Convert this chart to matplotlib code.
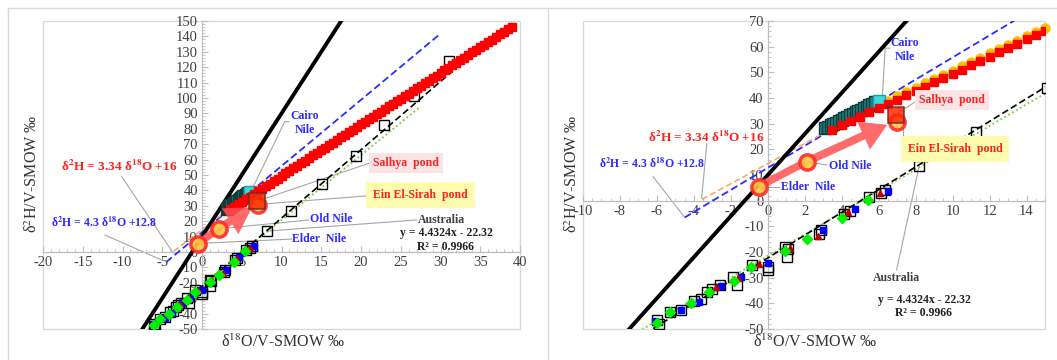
import matplotlib
matplotlib.use('Agg')
import matplotlib.pyplot as plt
from matplotlib.lines import Line2D
from matplotlib.patches import Rectangle

plt.rcParams['font.family'] = ['Liberation Serif', 'DejaVu Serif']
plt.rcParams['mathtext.fontset'] = 'stix'
plt.rcParams['axes.unicode_minus'] = False

# ---------------- data ----------------
# Global meteoric water line (black)
gmwl_x = [-8.0, 18.0]
gmwl_y = [-54.0, 154.0]
# Nile line δ2H = 4.3 δ18O + 12.8 (blue dashed)
nile_line_x = [-4.5, 30.0]
nile_line_y = [-6.55, 141.8]
# orange dashed line
orange_x = [-3.56, 3.2]
orange_y = [0.5, 27.0]
# Australia trend (black dashed) and green dotted line
trend_x = [-6.2, 31.4]
trend_y = [-49.8, 116.9]
green_line_x = [-6.8, 27.5]
green_line_y = [-50.2, 94.5]

# evaporation line points (red squares)
evap_x = [3.5, 4.0, 4.5, 5.0, 5.5, 6.0, 6.5, 7.0, 7.5, 8.0, 8.5, 9.0, 9.5, 10.0, 10.5,
          11.0, 11.5, 12.0, 12.5, 13.0, 13.5, 14.0, 14.5, 15.0, 15.5, 16.0, 16.5, 17.0,
          17.5, 18.0, 18.5, 19.0, 19.5, 20.0, 20.5, 21.0, 21.5, 22.0, 22.5, 23.0, 23.5,
          24.0, 24.5, 25.0, 25.5, 26.0, 26.5, 27.0, 27.5, 28.0, 28.5, 29.0, 29.5, 30.0,
          30.5, 31.0, 31.5, 32.0, 32.5, 33.0, 33.5, 34.0, 34.5, 35.0, 35.5, 36.0, 36.5,
          37.0, 37.5, 38.0, 38.5, 39.0]
evap_y = [27.7, 29.4, 31.0, 32.7, 34.4, 36.0, 37.7, 39.4, 41.1, 42.7, 44.4, 46.1, 47.7,
          49.4, 51.1, 52.7, 54.4, 56.1, 57.8, 59.4, 61.1, 62.8, 64.4, 66.1, 67.8, 69.4,
          71.1, 72.8, 74.5, 76.1, 77.8, 79.5, 81.1, 82.8, 84.5, 86.1, 87.8, 89.5, 91.2,
          92.8, 94.5, 96.2, 97.8, 99.5, 101.2, 102.8, 104.5, 106.2, 107.9, 109.5, 111.2,
          112.9, 114.5, 116.2, 117.9, 119.5, 121.2, 122.9, 124.6, 126.2, 127.9, 129.6,
          131.2, 132.9, 134.6, 136.2, 137.9, 139.6, 141.3, 142.9, 144.6, 146.3]
# yellow circles behind (visible in the zoomed panel)
gold_x = [3.5, 4.0, 4.5, 5.0, 5.5, 6.0, 6.5, 7.0, 7.5, 8.0, 8.5, 9.0, 9.5, 10.0, 10.5,
          11.0, 11.5, 12.0, 12.5, 13.0, 13.5, 14.0, 14.5, 15.0]
gold_y = [29.0, 30.7, 32.3, 34.0, 35.7, 37.3, 39.0, 40.7, 42.4, 44.0, 45.7, 47.4, 49.0,
          50.7, 52.4, 54.0, 55.7, 57.4, 59.1, 60.7, 62.4, 64.1, 65.7, 67.4]

# Cairo Nile (teal squares)
cairo_x = [3.1, 3.25, 3.4, 3.55, 3.7, 3.85, 4.0, 4.15, 4.3, 4.45, 4.6, 4.75, 4.9, 5.05,
           5.2, 5.35, 5.5, 5.65, 5.8]
cairo_y = [28.2, 28.8, 29.3, 29.9, 30.4, 31.0, 31.6, 32.1, 32.7, 33.3, 33.8, 34.4, 34.9,
           35.5, 36.1, 36.6, 37.2, 37.8, 38.3]
cairo_last_x = [6.0]
cairo_last_y = [39.0]

# Nile stations
elder_nile = (-0.5, 5.5)
old_nile = (2.1, 15.2)
ein_sirah = (7.0, 30.8)
salhya = (6.95, 33.4)
arrow_tip = (6.6, 30.0)

# Australia samples (open squares)
aus_x = [-6.0, -5.9, -5.3, -4.7, -4.0, -3.6, -3.3, -3.0, -2.6, -1.9, -1.65, -0.85, 0.0,
         0.0, 0.95, 1.1, 1.05, 2.75, 2.9, 4.15, 4.45, 5.5, 6.1, 6.35, 8.2, 11.25, 15.1,
         19.4, 22.9, 26.7, 31.1]
aus_y = [-46.5, -48.0, -43.2, -42.5, -39.0, -38.5, -35.5, -34.5, -33.0, -29.6, -32.9,
         -24.9, -25.7, -27.0, -18.1, -18.8, -21.8, -12.9, -11.6, -5.3, -4.0, 1.25, 2.8,
         4.2, 13.4, 26.8, 44.0, 62.3, 82.5, 101.5, 124.0]
blue_x = [-6.1, -4.7, -3.75, -2.55, -1.45, 0.0, 3.0, 4.7, 6.5]
blue_y = [-46.8, -42.6, -39.3, -33.2, -29.6, -24.4, -11.6, -3.1, 3.6]
tri_x = [-4.2, -2.8, -1.6, -0.5, 1.2, 2.7, 4.35, 6.05]
tri_y = [-39.8, -33.6, -30.0, -24.6, -18.3, -13.9, -4.4, 2.8]
dia_x = [-6.0, -5.3, -4.15, -3.2, -1.85, -0.93, 0.95, 2.1, 4.0, 5.4]
dia_y = [-47.5, -43.3, -40.0, -35.5, -31.2, -26.0, -19.7, -15.0, -6.8, 0.4]

# axes
left_xticks = [-20, -15, -10, -5, 0, 5, 10, 15, 20, 25, 30, 35, 40]
left_yticks = [-50, -40, -30, -20, -10, 0, 10, 20, 30, 40, 50, 60, 70, 80, 90, 100,
               110, 120, 130, 140, 150]
right_xticks = [-10, -8, -6, -4, -2, 0, 2, 4, 6, 8, 10, 12, 14]
right_yticks = [-50, -40, -30, -20, -10, 0, 10, 20, 30, 40, 50, 60, 70]

BLUE = '#2b2bff'
RED = '#ff2020'
GRAY = '#a6a6a6'

fig = plt.figure(figsize=(10.57, 3.6), dpi=100)
W, H = 1057.0, 360.0

# outer chart frames
fig.add_artist(Line2D([8 / W, 1.0], [1 - 8 / H, 1 - 8 / H], color='#d9d9d9', lw=1))
fig.add_artist(Line2D([8 / W, 8 / W], [0, 1 - 8 / H], color='#d9d9d9', lw=1))
fig.add_artist(Line2D([548 / W, 548 / W], [0, 1 - 8 / H], color='#d9d9d9', lw=1))


def make_axes(px0, px1):
    return fig.add_axes([px0 / W, 1 - 329 / H, (px1 - px0) / W, (329 - 21) / H])


def panel(ax, xlim, ylim, xticks, yticks, xminor, yminor, texts, leaders, show_gold):
    ax.set_xlim(*xlim)
    ax.set_ylim(*ylim)
    for s in ['top', 'right']:
        ax.spines[s].set_visible(False)
    ax.spines['left'].set_position(('data', 0))
    ax.spines['bottom'].set_position(('data', 0))
    for s in ['left', 'bottom']:
        ax.spines[s].set_color('#bfbfbf')
        ax.spines[s].set_linewidth(0.9)
    ax.add_patch(Rectangle((0, 0), 1, 1, transform=ax.transAxes, fill=False,
                           ec='#d9d9d9', lw=1, zorder=0.5, clip_on=False))
    ax.set_xticks(xticks)
    ax.set_yticks(yticks)
    ax.xaxis.set_minor_locator(matplotlib.ticker.MultipleLocator(xminor))
    ax.yaxis.set_minor_locator(matplotlib.ticker.MultipleLocator(yminor))
    ax.tick_params(which='major', direction='in', length=4, color='#bfbfbf',
                   labelsize=10.5, labelcolor='#404040', pad=3)
    ax.tick_params(which='minor', direction='in', length=2.5, color='#bfbfbf')
    ax.patch.set_alpha(0)

    # lines
    ax.plot(nile_line_x, nile_line_y, color=BLUE, lw=1.3, ls=(0, (4, 2)), zorder=3)
    ax.plot(orange_x, orange_y, color='#f4a460', lw=1.1, ls=(0, (4, 2)), zorder=3)
    ax.plot(green_line_x, green_line_y, color='#7ccd3c', lw=1.3, ls=(0, (1, 1.5)), zorder=3)
    ax.plot(trend_x, trend_y, color='black', lw=1.2, ls=(0, (4, 2)), zorder=3)
    ax.plot(gmwl_x, gmwl_y, color='black', lw=2.8, zorder=4, solid_capstyle='butt')

    # Australia and other groundwater samples
    ax.plot(aus_x, aus_y, 's', ms=7.5, mfc='none', mec='black', mew=1.0, zorder=5)
    ax.plot(blue_x, blue_y, 's', ms=4.5, color='#0000ff', zorder=6)
    ax.plot(tri_x, tri_y, '^', ms=4.5, color='#c00000', zorder=6)
    ax.plot(dia_x, dia_y, 'D', ms=5, color='#00ee00', zorder=6)

    # evaporation line
    if show_gold:
        ax.plot(gold_x, gold_y, 'o', ms=6.5, color='#ffc000', zorder=6, clip_on=False)
    ax.plot(evap_x, evap_y, 's', ms=5.5, color='#ff0000', zorder=7)
    # Cairo Nile
    ax.plot(cairo_x, cairo_y, 's', ms=8.5, mfc='#1b7f7f', mec='#123c3c', mew=1.0, zorder=6)
    ax.plot(cairo_last_x, cairo_last_y, 's', ms=8.5, mfc='#33dddd', mec='#2a9a9a', mew=1.0,
            zorder=6)

    # arrow path
    ax.plot([elder_nile[0], old_nile[0]], [elder_nile[1], old_nile[1]], color='#ff5050',
            alpha=0.85, lw=5.5, solid_capstyle='butt', zorder=8)
    ax.annotate('', xy=arrow_tip, xytext=old_nile,
                arrowprops=dict(arrowstyle='simple,tail_width=0.26,head_width=1.0,head_length=0.85',
                                mutation_scale=22, color='#ff5050', alpha=0.85, lw=0),
                zorder=8)
    for pt in (elder_nile, old_nile, ein_sirah):
        ax.plot([pt[0]], [pt[1]], 'o', ms=11, mfc='#ffc845', mec='#ff2a2a', mew=2.5,
                alpha=0.9, zorder=9)
    ax.plot([salhya[0]], [salhya[1]], 's', ms=11, mfc='#ff2a00', mec='#6b2a2a', mew=1.2,
            alpha=0.85, zorder=10)

    # leaders
    for xs, ys in leaders:
        ax.plot(xs, ys, color=GRAY, lw=0.8, zorder=2.5)
    for t in texts:
        s, x, y, col, ha, size, box, pad = t
        kw = {}
        if box is not None:
            kw['bbox'] = dict(boxstyle='square,pad=%.2f' % pad, fc=box, ec='none')
        ax.text(x, y, s, color=col, ha=ha, va='center', fontsize=size,
                fontweight='bold', zorder=11, linespacing=1.3, **kw)


red_eq = r'δ$^{\mathbf{2}}$H = 3.34 δ$^{\mathbf{18}}$O +16'
blue_eq = r'δ$^{\mathbf{2}}$H = 4.3 δ$^{\mathbf{18}}$O +12.8'
PINK = '#fde4e4'
YEL = '#fdfbae'
DARK = '#404040'

axL = make_axes(43, 520)
left_texts = [
    ('Cairo\nNile', 12.96, 83.8, BLUE, 'center', 8.5, None, 0),
    ('Salhya  pond', 25.7, 57.8, RED, 'center', 8.5, PINK, 0.35),
    ('Ein El-Sirah  pond', 27.5, 37.0, RED, 'center', 8.5, YEL, 0.6),
    ('Old Nile', 13.6, 21.4, BLUE, 'left', 8.5, None, 0),
    ('Elder  Nile', 11.3, 8.4, BLUE, 'left', 8.5, None, 0),
    ('Australia', 27.2, 20.8, DARK, 'left', 8.5, None, 0),
    ('y = 4.4324x - 22.32', 30.7, 12.3, '#222222', 'center', 8.5, None, 0),
    ('R² = 0.9966', 30.6, 3.2, '#222222', 'center', 8.5, None, 0),
    (red_eq, -10.4, 55.8, RED, 'center', 9.5, None, 0),
    (blue_eq, -12.3, 18.8, BLUE, 'center', 8.5, None, 0),
]
left_leaders = [
    ([10.9, 10.4, 6.45], [84.6, 84.6, 42.4]),
    ([21.35, 7.5], [58.2, 34.0]),
    ([21.1, 7.3], [36.6, 31.0]),
    ([13.4, 2.26], [20.8, 15.1]),
    ([11.3, -0.25], [8.4, 5.6]),
    ([27.0, 8.2], [20.8, 13.6]),
    ([-10.1, -3.6], [48.9, -0.8]),
    ([-12.2, -4.9], [11.0, -5.6]),
]
panel(axL, (-20, 40), (-50, 150), left_xticks, left_yticks, 1, 2, left_texts, left_leaders,
      False)

axR = make_axes(583, 1045)
right_texts = [
    ('Cairo\nNile', 7.42, 58.7, BLUE, 'center', 8.5, None, 0),
    ('Salhya  pond', 9.97, 39.2, RED, 'center', 8.5, PINK, 0.35),
    ('Ein El-Sirah  pond', 10.13, 20.1, RED, 'center', 8.5, YEL, 0.6),
    ('Old Nile', 3.31, 13.5, BLUE, 'left', 8.5, None, 0),
    ('Elder  Nile', 0.71, 5.3, BLUE, 'left', 8.5, None, 0),
    ('Australia', 6.94, -30.1, DARK, 'center', 8.5, None, 0),
    ('y = 4.4324x - 22.32', 8.45, -38.7, '#222222', 'center', 8.5, None, 0),
    ('R² = 0.9966', 8.45, -43.8, '#222222', 'center', 8.5, None, 0),
    (red_eq, -3.34, 24.8, RED, 'center', 9.5, None, 0),
    (blue_eq, -6.24, 14.3, BLUE, 'center', 8.5, None, 0),
]
right_leaders = [
    ([6.6, 6.35, 6.2], [59.4, 59.4, 40.5]),
    ([8.13, 6.88], [39.2, 33.4]),
    ([7.6, 7.3, 7.3], [20.4, 20.4, 30.0]),
    ([3.2, 2.1], [13.9, 15.2]),
    ([0.6, -0.3], [5.3, 5.3]),
    ([6.97, 8.18], [-27.0, 13.1]),
    ([-3.3, -3.58], [22.3, 0.9]),
    ([-6.2, -4.53], [9.3, -6.2]),
]
panel(axR, (-10, 15), (-50, 70), right_xticks, right_yticks, 0.5, 2, right_texts,
      right_leaders, True)

# axis titles
xlab = r'δ$^{18}$O/V-SMOW ‰'
ylab = r'δ$^{2}$H/V-SMOW ‰'
fig.text(283 / W, 1 - 342 / H, xlab, ha='center', va='center', fontsize=11.5, color='#333333')
fig.text(815 / W, 1 - 342 / H, xlab, ha='center', va='center', fontsize=11.5, color='#333333')
fig.text(33 / W, 1 - 174 / H, ylab, ha='center', va='center', rotation=90, fontsize=11.5,
         color='#333333')
fig.text(573 / W, 1 - 174 / H, ylab, ha='center', va='center', rotation=90, fontsize=11.5,
         color='#333333')

fig.savefig('out.png', dpi=100)
